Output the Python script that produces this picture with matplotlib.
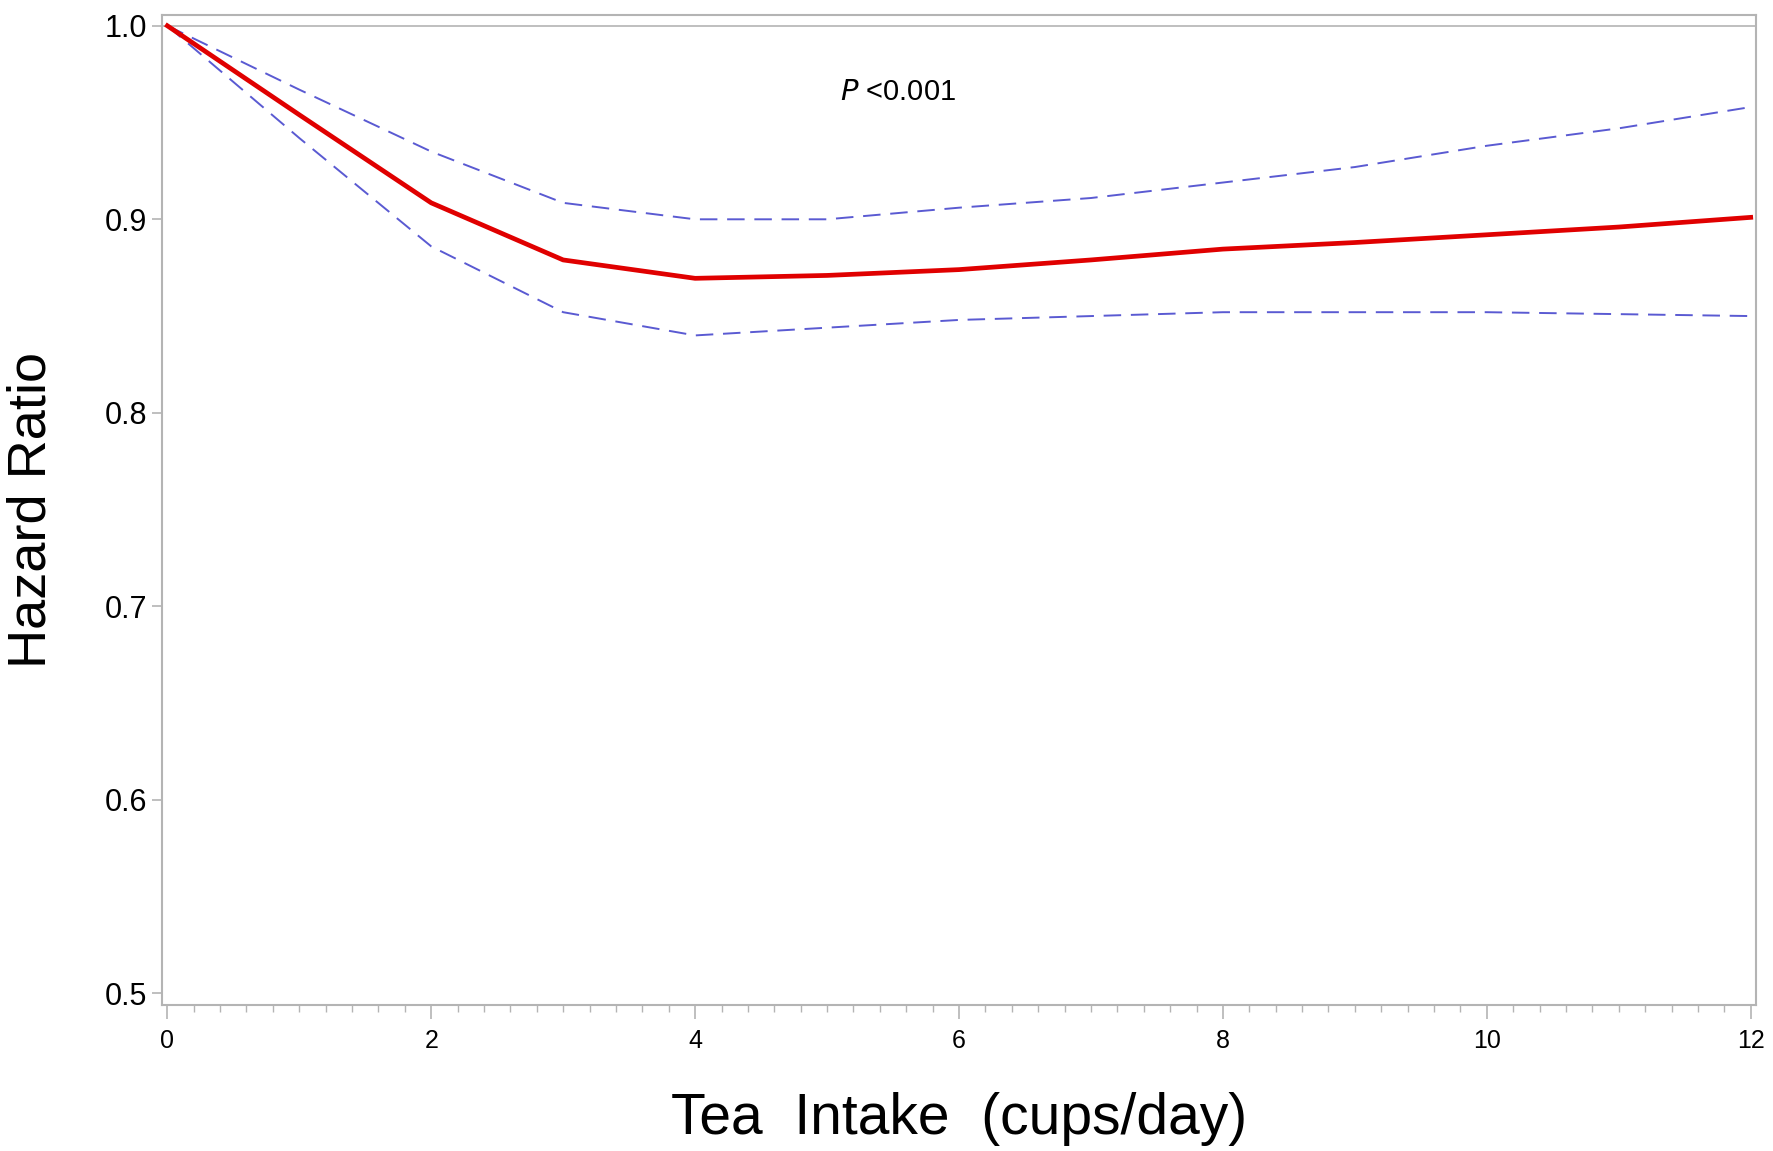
import matplotlib
matplotlib.use("Agg")
import matplotlib.pyplot as plt
from matplotlib.ticker import MultipleLocator

plt.rcParams['font.family'] = ['Liberation Sans', 'DejaVu Sans']

x = [0, 1, 2, 3, 4, 5, 6, 7, 8, 9, 10, 11, 12]
hr = [1.0, 0.954, 0.9085, 0.879, 0.8695, 0.871, 0.874, 0.879, 0.8846, 0.888, 0.892, 0.896, 0.901]
upper = [1.0, 0.967, 0.935, 0.9085, 0.900, 0.900, 0.906, 0.911, 0.919, 0.927, 0.938, 0.947, 0.958]
lower = [1.0, 0.942, 0.886, 0.852, 0.840, 0.844, 0.848, 0.850, 0.852, 0.852, 0.852, 0.851, 0.850]
xticks = [0, 2, 4, 6, 8, 10, 12]
yticks = [0.5, 0.6, 0.7, 0.8, 0.9, 1.0]

fig = plt.figure(figsize=(17.73, 11.51), dpi=100)
ax = fig.add_axes([0.0914, 0.1268, 0.8990, 0.8604])

gray = '#b4b4b4'
ax.axhline(1.0, color=gray, lw=1.2, zorder=1)
ax.plot(x, upper, color='#5a5ad2', lw=1.4, dashes=(9, 5), zorder=2)
ax.plot(x, lower, color='#5a5ad2', lw=1.4, dashes=(9, 5), zorder=2)
ax.plot(x, hr, color='#e00000', lw=3.4, zorder=3)

ax.set_xlim(-0.04, 12.04)
ax.set_ylim(0.494, 1.0057)
ax.set_xticks(xticks)
ax.set_xticklabels([str(v) for v in xticks])
ax.xaxis.set_minor_locator(MultipleLocator(0.2))
ax.set_yticks(yticks)
ax.set_yticklabels([f"{v:.1f}" for v in yticks])

for s in ax.spines.values():
    s.set_color(gray)
    s.set_linewidth(1.5)

ax.tick_params(axis='x', which='major', length=10, width=1.2, color=gray, labelsize=18, pad=7)
ax.tick_params(axis='x', which='minor', length=5, width=1.0, color=gray)
ax.tick_params(axis='y', which='major', length=7, width=1.2, color=gray, labelsize=22, pad=4)

ax.text(5.1, 0.966, r'$\it{P}$ <0.001', fontsize=21, ha='left', va='center')

fig.text(0.541, 0.028, 'Tea  Intake  (cups/day)', fontsize=41, ha='center', va='center')
fig.text(0.018, 0.5568, 'Hazard Ratio', fontsize=39, rotation=90, ha='center', va='center')

fig.savefig('out.png', dpi=100)
